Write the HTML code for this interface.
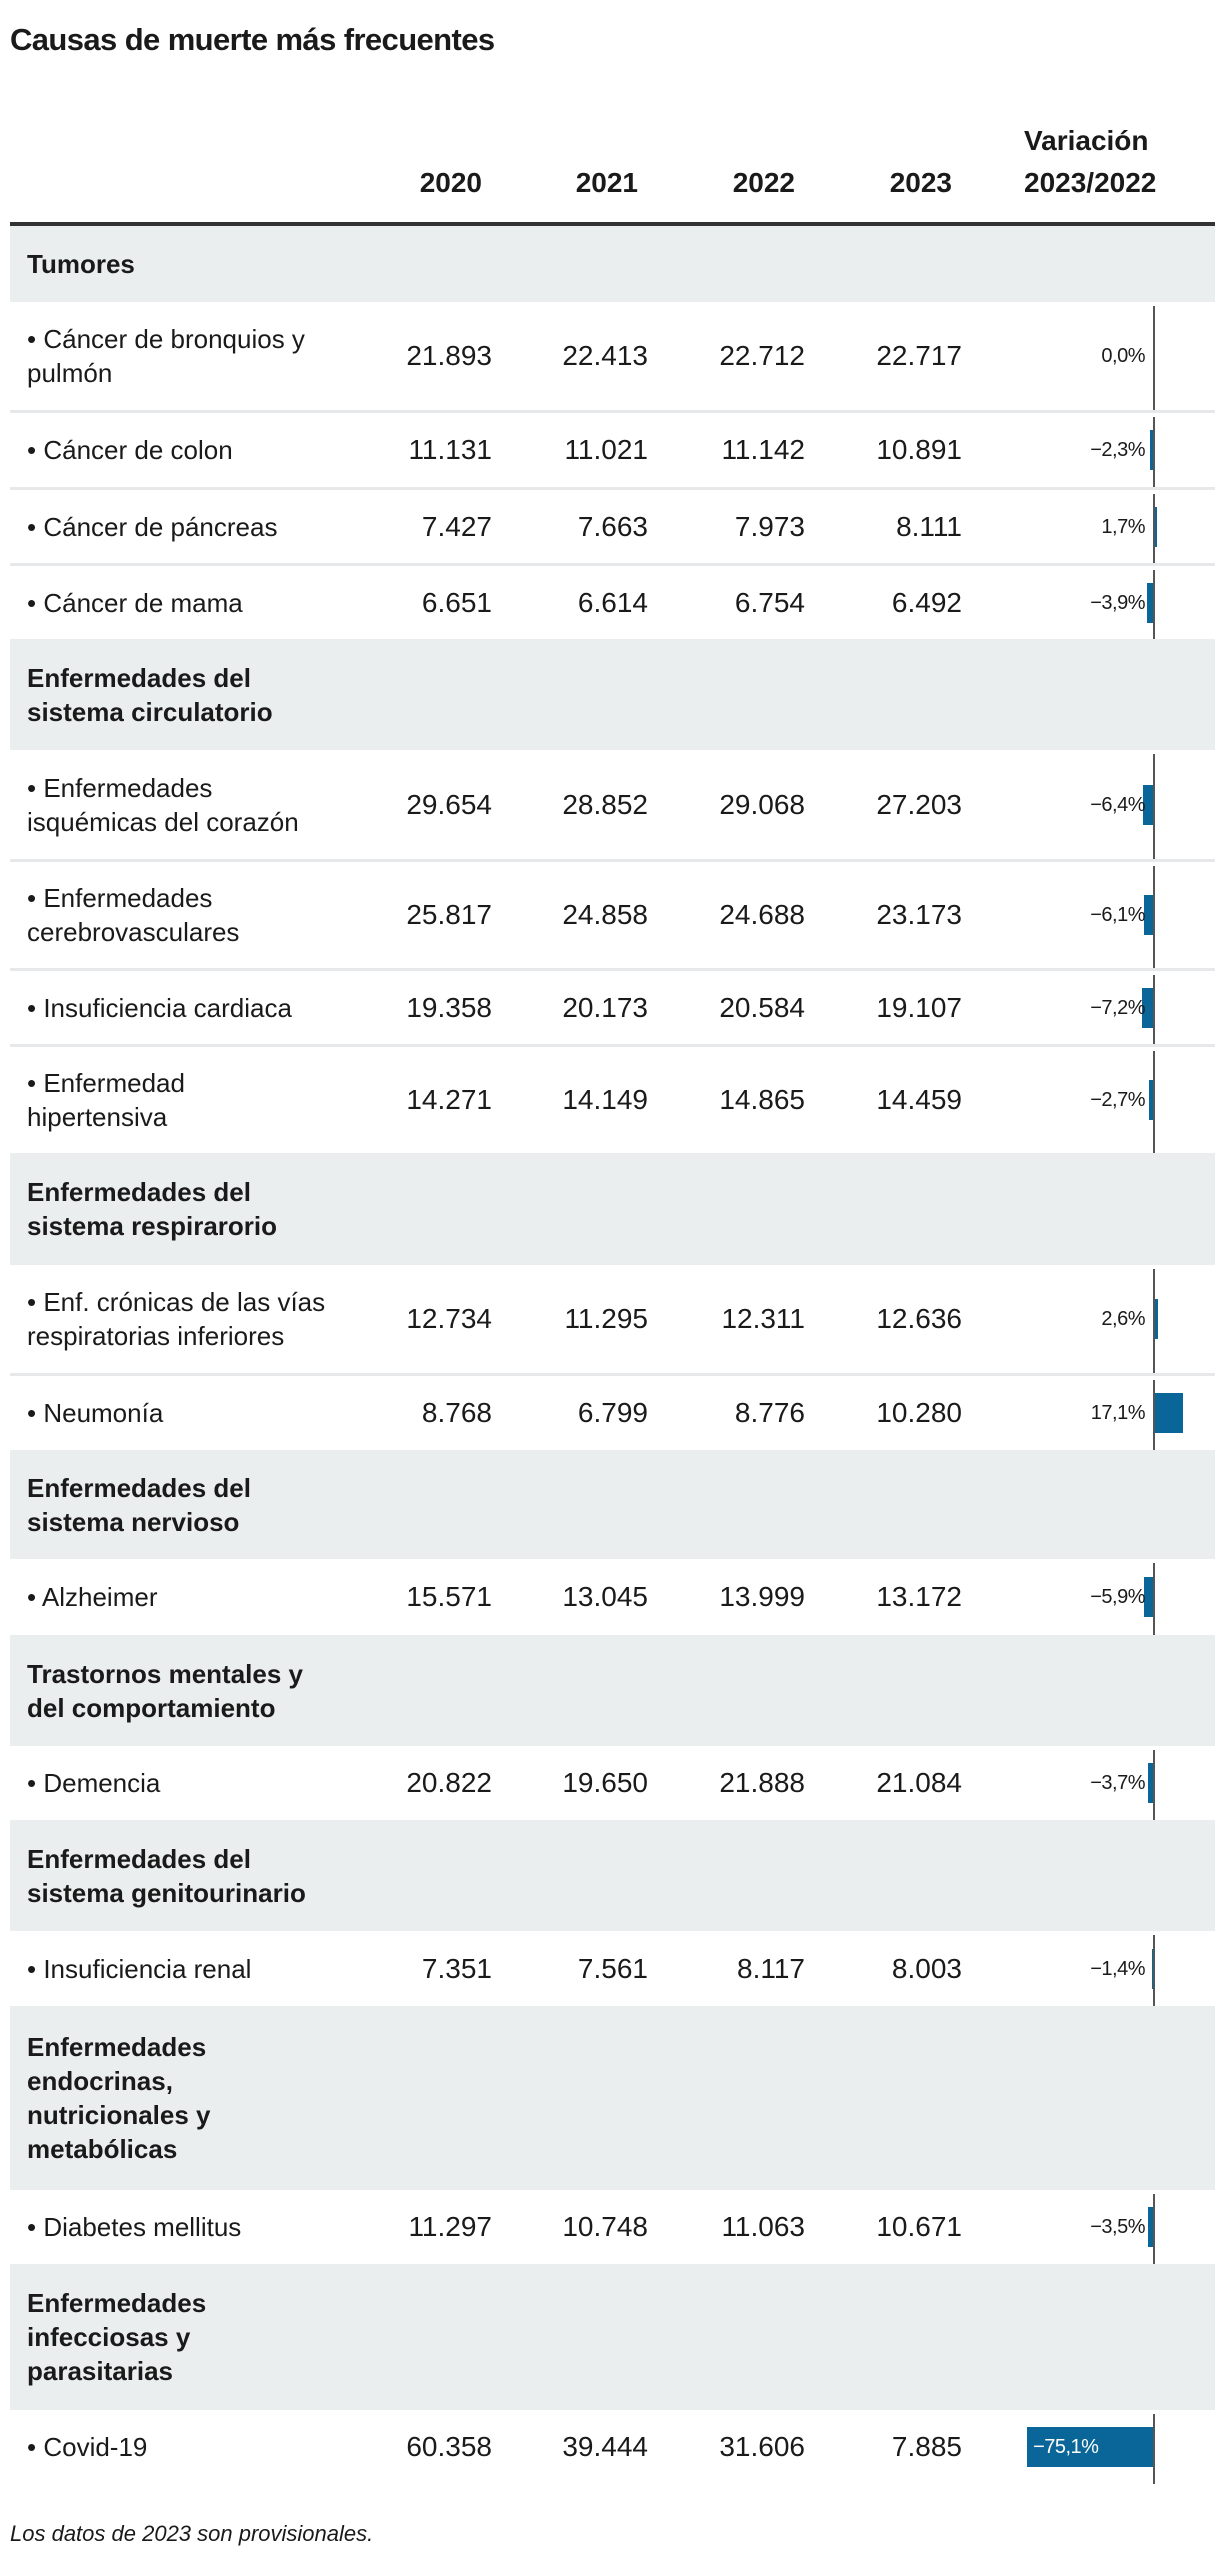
<!DOCTYPE html>
<html><head><meta charset="utf-8"><style>
*{margin:0;padding:0;box-sizing:border-box}
body{width:1220px;height:2572px;background:#fff;font-family:"Liberation Sans",sans-serif;color:#1a1a1a;position:relative;overflow:hidden}
.title{position:absolute;left:10px;top:22px;font-size:31px;font-weight:bold;letter-spacing:-0.6px}
.hd{position:absolute;font-size:28px;font-weight:bold;line-height:42px}
.rule{position:absolute;left:10px;top:222px;width:1205px;height:4px;background:#333}
.tbl{position:absolute;left:10px;top:226px;width:1205px}
.band{background:#ebeeef;position:relative;font-weight:bold;font-size:26px;line-height:34px;padding-left:17px;display:flex;align-items:center}
.row{position:relative;border-top:3px solid #e6e8e9;font-size:26px;line-height:34px}
.row.first{border-top:none}
.lab{position:absolute;left:17px;top:50%;transform:translateY(-50%)}
.num{position:absolute;top:50%;transform:translateY(-50%);font-size:28px;text-align:right;width:140px}
.axis{position:absolute;left:1143px;top:4px;bottom:0;width:2px;background:#555}
.bar{position:absolute;top:50%;height:40px;margin-top:-20px;background:#0a6699}
.pct{position:absolute;top:50%;transform:translateY(-50%);font-size:20px;right:70px;text-align:right;letter-spacing:-0.5px}
.foot{position:absolute;left:10px;top:2521px;font-size:22px;font-style:italic}
</style></head><body>
<div class="title">Causas de muerte más frecuentes</div>
<div class="hd" style="left:402px;top:162px;width:80px;text-align:right">2020</div>
<div class="hd" style="left:558px;top:162px;width:80px;text-align:right">2021</div>
<div class="hd" style="left:715px;top:162px;width:80px;text-align:right">2022</div>
<div class="hd" style="left:872px;top:162px;width:80px;text-align:right">2023</div>
<div class="hd" style="left:1024px;top:120px">Variación<br>2023/2022</div>
<div class="rule"></div>
<div class="tbl" id="t"></div>
<div class="foot">Los datos de 2023 son provisionales.</div>
<script>
var D=[
["b","Tumores",76],
["r","• Cáncer de bronquios y<br>pulmón",["21.893","22.413","22.712","22.717"],0.0,"0,0%",108,1],
["r","• Cáncer de colon",["11.131","11.021","11.142","10.891"],-2.3,"−2,3%",77],
["r","• Cáncer de páncreas",["7.427","7.663","7.973","8.111"],1.7,"1,7%",76],
["r","• Cáncer de mama",["6.651","6.614","6.754","6.492"],-3.9,"−3,9%",76],
["b","Enfermedades del<br>sistema circulatorio",111],
["r","• Enfermedades<br>isquémicas del corazón",["29.654","28.852","29.068","27.203"],-6.4,"−6,4%",109,1],
["r","• Enfermedades<br>cerebrovasculares",["25.817","24.858","24.688","23.173"],-6.1,"−6,1%",109],
["r","• Insuficiencia cardiaca",["19.358","20.173","20.584","19.107"],-7.2,"−7,2%",76],
["r","• Enfermedad<br>hipertensiva",["14.271","14.149","14.865","14.459"],-2.7,"−2,7%",109],
["b","Enfermedades del<br>sistema respirarorio",112],
["r","• Enf. crónicas de las vías<br>respiratorias inferiores",["12.734","11.295","12.311","12.636"],2.6,"2,6%",108,1],
["r","• Neumonía",["8.768","6.799","8.776","10.280"],17.1,"17,1%",77],
["b","Enfermedades del<br>sistema nervioso",109],
["r","• Alzheimer",["15.571","13.045","13.999","13.172"],-5.9,"−5,9%",76,1],
["b","Trastornos mentales y<br>del comportamiento",111],
["r","• Demencia",["20.822","19.650","21.888","21.084"],-3.7,"−3,7%",74,1],
["b","Enfermedades del<br>sistema genitourinario",111],
["r","• Insuficiencia renal",["7.351","7.561","8.117","8.003"],-1.4,"−1,4%",75,1],
["b","Enfermedades<br>endocrinas,<br>nutricionales y<br>metabólicas",184],
["r","• Diabetes mellitus",["11.297","10.748","11.063","10.671"],-3.5,"−3,5%",74,1],
["b","Enfermedades<br>infecciosas y<br>parasitarias",146],
["r","• Covid-19",["60.358","39.444","31.606","7.885"],-75.1,"−75,1%",74,1]
];
var rx=[482,638,795,952],h="",S=1.69;
D.forEach(function(d){
 if(d[0]=="b"){h+='<div class="band" style="height:'+d[2]+'px">'+d[1]+'</div>';return;}
 var s='<div class="row'+(d[6]?' first':'')+'" style="height:'+d[5]+'px"><div class="lab">'+d[1]+'</div>';
 d[2].forEach(function(n,i){s+='<div class="num" style="left:'+(rx[i]-140)+'px">'+n+'</div>';});
 var v=d[3],w=Math.abs(v)*S;
 if(v<0)s+='<div class="bar" style="left:'+(1144-w)+'px;width:'+w+'px"></div>';
 else if(v>0)s+='<div class="bar" style="left:1144px;width:'+w+'px"></div>';
 s+='<div class="axis"></div>';
 if(v<-40)s+='<div class="pct" style="right:auto;left:'+(1144-w+6)+'px;color:#fff">'+d[4]+'</div>';
 else s+='<div class="pct">'+d[4]+'</div>';
 h+=s+'</div>';
});
document.getElementById('t').innerHTML=h;
</script>
</body></html>
